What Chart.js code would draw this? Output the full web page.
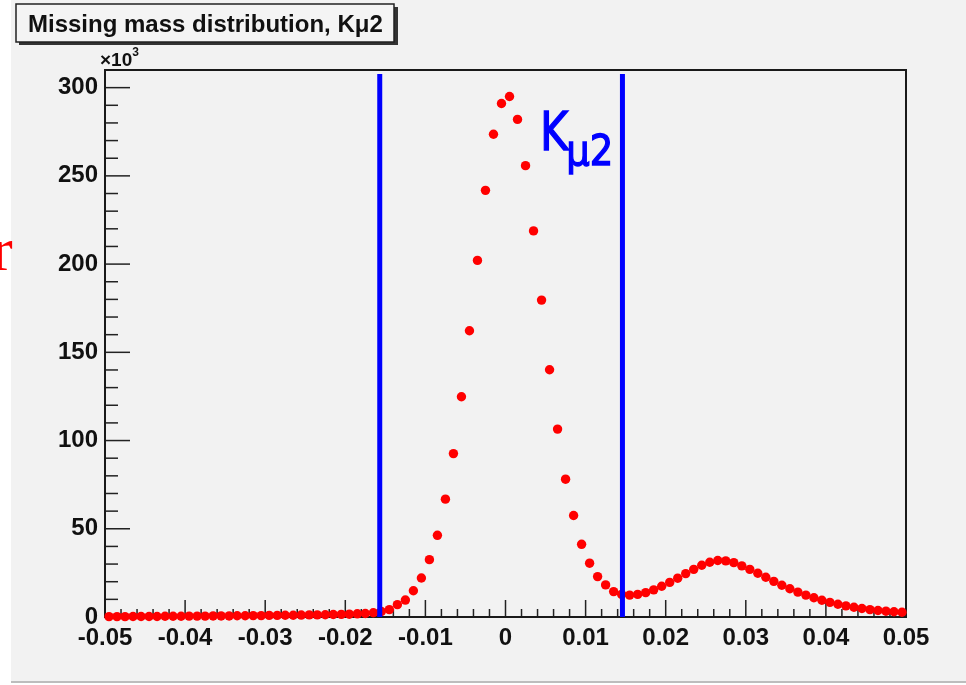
<!DOCTYPE html>
<html>
<head>
<meta charset="utf-8">
<script src="https://cdn.jsdelivr.net/npm/chart.js@4"></script>
<style>
  html, body { margin: 0; padding: 0; background: #ffffff; }
  #wrap { width: 966px; height: 685px; }
</style>
</head>
<body>
<div id="wrap"><canvas id="chart" width="966" height="685"></canvas></div>
<script>
// histogram bin centres (missing mass, 100 bins of 0.001)
const binCenters = [
  -0.0495, -0.0485, -0.0475, -0.0465, -0.0455, -0.0445, -0.0435, -0.0425, -0.0415, -0.0405,
  -0.0395, -0.0385, -0.0375, -0.0365, -0.0355, -0.0345, -0.0335, -0.0325, -0.0315, -0.0305,
  -0.0295, -0.0285, -0.0275, -0.0265, -0.0255, -0.0245, -0.0235, -0.0225, -0.0215, -0.0205,
  -0.0195, -0.0185, -0.0175, -0.0165, -0.0155, -0.0145, -0.0135, -0.0125, -0.0115, -0.0105,
  -0.0095, -0.0085, -0.0075, -0.0065, -0.0055, -0.0045, -0.0035, -0.0025, -0.0015, -0.0005,
  0.0005, 0.0015, 0.0025, 0.0035, 0.0045, 0.0055, 0.0065, 0.0075, 0.0085, 0.0095,
  0.0105, 0.0115, 0.0125, 0.0135, 0.0145, 0.0155, 0.0165, 0.0175, 0.0185, 0.0195,
  0.0205, 0.0215, 0.0225, 0.0235, 0.0245, 0.0255, 0.0265, 0.0275, 0.0285, 0.0295,
  0.0305, 0.0315, 0.0325, 0.0335, 0.0345, 0.0355, 0.0365, 0.0375, 0.0385, 0.0395,
  0.0405, 0.0415, 0.0425, 0.0435, 0.0445, 0.0455, 0.0465, 0.0475, 0.0485, 0.0495
]

// entries per bin, in units of 10^3
const counts = [
  0.2, 0.2, 0.2, 0.3, 0.3, 0.3, 0.3, 0.4, 0.4, 0.4,
  0.5, 0.5, 0.5, 0.6, 0.6, 0.6, 0.7, 0.7, 0.8, 0.8,
  0.9, 0.9, 1.0, 1.0, 1.1, 1.2, 1.2, 1.3, 1.4, 1.5,
  1.6, 1.8, 2.0, 2.4, 3.1, 4.2, 7.0, 9.6, 14.9, 22.1,
  32.5, 46.3, 66.8, 92.6, 124.8, 162.2, 202.1, 241.8, 273.6, 291.0,
  295.0, 282.0, 255.8, 218.8, 179.6, 140.1, 106.5, 78.1, 57.5, 41.2,
  30.5, 22.9, 18.2, 14.4, 12.8, 12.4, 12.8, 13.8, 15.4, 17.4,
  19.6, 22.0, 24.6, 27.0, 29.3, 31.0, 32.0, 31.8, 30.8, 29.0,
  27.0, 24.8, 22.5, 20.2, 18.0, 16.0, 14.1, 12.4, 10.9, 9.5,
  8.3, 7.2, 6.3, 5.5, 4.8, 4.2, 3.7, 3.3, 3.0, 2.7
]

// selection cuts (vertical blue lines)
const cutPositions = [-0.0157, 0.0146]
const cutTop = 307.7

const xTickValues = [-0.05, -0.04, -0.03, -0.02, -0.01, 0, 0.01, 0.02, 0.03, 0.04, 0.05]
const xTickLabels = ['-0.05', '-0.04', '-0.03', '-0.02', '-0.01', '0', '0.01', '0.02', '0.03', '0.04', '0.05']
const yTickValues = [0, 50, 100, 150, 200, 250, 300]
const yTickLabels = ['0', '50', '100', '150', '200', '250', '300']

const titleText = 'Missing mass distribution, K\u03bc2'

const rootFont = 'Liberation Sans, Arial, sans-serif'

const pageBackground = {
    id: 'pageBackground',
    beforeDraw: (chart) => {
        const { ctx, width, height } = chart
        ctx.save()
        ctx.fillStyle = '#ffffff'
        ctx.fillRect(0, 0, width, height)
        ctx.fillStyle = '#f2f2f2'
        ctx.fillRect(11, 0, width - 11, 681)
        ctx.fillStyle = '#bdbdbd'
        ctx.fillRect(11, 681, width - 11, 2)
        ctx.restore()
    }
}

// ROOT style frame with ticks pointing inwards
const rootFrame = {
    id: 'rootFrame',
    beforeDatasetsDraw: (chart) => {
        const { ctx, chartArea: a, scales: { x, y } } = chart
        ctx.save()
        ctx.strokeStyle = '#222'
        ctx.lineWidth = 1.5

        // x ticks: major every 0.01, 5 minor divisions
        for (let i = 0; i < xTickValues.length; i++) {
            const px = x.getPixelForValue(xTickValues[i])
            ctx.beginPath()
            ctx.moveTo(px, a.bottom)
            ctx.lineTo(px, a.bottom - 17)
            ctx.stroke()
            if (i < xTickValues.length - 1) {
                for (let k = 1; k < 5; k++) {
                    const v = xTickValues[i] + (xTickValues[i + 1] - xTickValues[i]) * k / 5
                    const mx = x.getPixelForValue(v)
                    ctx.beginPath()
                    ctx.moveTo(mx, a.bottom)
                    ctx.lineTo(mx, a.bottom - 8)
                    ctx.stroke()
                }
            }
        }

        // y ticks: major every 50, 5 minor divisions
        for (let i = 0; i < yTickValues.length; i++) {
            const py = y.getPixelForValue(yTickValues[i])
            ctx.beginPath()
            ctx.moveTo(a.left, py)
            ctx.lineTo(a.left + 25, py)
            ctx.stroke()
            for (let k = 1; k < 5; k++) {
                const v = yTickValues[i] + 50 * k / 5
                if (v >= y.max) break
                const my = y.getPixelForValue(v)
                ctx.beginPath()
                ctx.moveTo(a.left, my)
                ctx.lineTo(a.left + 13, my)
                ctx.stroke()
            }
        }

        ctx.lineWidth = 2
        ctx.strokeStyle = '#1a1a1a'
        ctx.strokeRect(a.left, a.top, a.right - a.left, a.bottom - a.top)
        ctx.restore()
    }
}

const rootLabels = {
    id: 'rootLabels',
    afterDraw: (chart) => {
        const { ctx, scales: { x, y } } = chart
        ctx.save()

        // title box with shadow
        ctx.fillStyle = '#333'
        ctx.fillRect(19, 7, 379, 38)
        ctx.fillStyle = '#f4f4f4'
        ctx.fillRect(16, 4, 378, 38)
        ctx.strokeStyle = '#222'
        ctx.lineWidth = 1.5
        ctx.strokeRect(16, 4, 378, 38)
        ctx.fillStyle = '#111'
        ctx.font = 'bold 24px ' + rootFont
        ctx.textBaseline = 'alphabetic'
        ctx.textAlign = 'left'
        ctx.fillText(titleText, 28, 32)

        // exponent of the y axis
        ctx.font = 'bold 19px ' + rootFont
        ctx.fillText('\u00d710', 100, 66)
        const ew = ctx.measureText('\u00d710').width
        ctx.font = 'bold 12px ' + rootFont
        ctx.fillText('3', 100 + ew, 56)

        // K_mu2 annotation
        const kx = x.getPixelForValue(0.0043)
        const ky = y.getPixelForValue(264.5)
        ctx.fillStyle = '#0000ff'
        ctx.strokeStyle = '#0000ff'
        ctx.lineWidth = 1.4
        ctx.font = '54px DejaVu Sans, sans-serif'
        const kw = ctx.measureText('K').width * 0.8
        ctx.save()
        ctx.translate(kx, ky)
        ctx.scale(0.8, 1)
        ctx.fillText('K', 0, 0)
        ctx.strokeText('K', 0, 0)
        ctx.restore()
        ctx.font = '42px DejaVu Sans, sans-serif'
        ctx.save()
        ctx.translate(kx + kw - 2, ky + 15)
        ctx.scale(0.88, 1)
        ctx.fillText('\u03bc2', 0, 0)
        ctx.strokeText('\u03bc2', 0, 0)
        ctx.restore()

        // clipped letter from the slide beside the plot
        ctx.fillStyle = '#ff0000'
        ctx.font = '62px Liberation Serif, Times New Roman, serif'
        ctx.textAlign = 'left'
        ctx.fillText('r', -8, 270)
        ctx.restore()
    }
}

const cutDatasets = cutPositions.map(c => ({
    type: 'line',
    data: [{ x: c, y: 0 }, { x: c, y: cutTop }],
    borderColor: '#0000ff',
    borderWidth: 5,
    pointRadius: 0,
    clip: false,
    order: 0
}))

new Chart(document.getElementById('chart').getContext('2d'), {
    type: 'scatter',
    data: {
        datasets: [
            ...cutDatasets,
            {
                label: 'Missing mass',
                data: binCenters.map((c, i) => ({ x: c, y: counts[i] })),
                backgroundColor: '#ff0000',
                borderWidth: 0,
                pointRadius: 4.7,
                clip: false,
                order: 1
            }
        ]
    },
    options: {
        responsive: false,
        animation: false,
        devicePixelRatio: 1,
        layout: {
            padding: { left: 0, right: 60, top: 70, bottom: 0 }
        },
        plugins: {
            legend: { display: false },
            tooltip: { enabled: false }
        },
        scales: {
            x: {
                type: 'linear',
                min: -0.05,
                max: 0.05,
                grid: { display: false, drawTicks: false },
                border: { display: false },
                afterBuildTicks: (scale) => { scale.ticks = xTickValues.map(v => ({ value: v })) },
                afterFit: (scale) => { scale.height = 68 },
                ticks: {
                    autoSkip: false,
                    maxRotation: 0,
                    padding: 7,
                    color: '#111',
                    font: { family: rootFont, weight: 'bold', size: 24 },
                    callback: (value, index) => xTickLabels[index]
                }
            },
            y: {
                type: 'linear',
                min: 0,
                max: 310,
                grid: { display: false, drawTicks: false },
                border: { display: false },
                afterBuildTicks: (scale) => { scale.ticks = yTickValues.map(v => ({ value: v })) },
                afterFit: (scale) => { scale.width = 105 },
                ticks: {
                    padding: 7,
                    color: '#111',
                    font: { family: rootFont, weight: 'bold', size: 24 },
                    callback: (value, index) => yTickLabels[index]
                }
            }
        }
    },
    plugins: [pageBackground, rootFrame, rootLabels]
})
</script>
</body>
</html>
